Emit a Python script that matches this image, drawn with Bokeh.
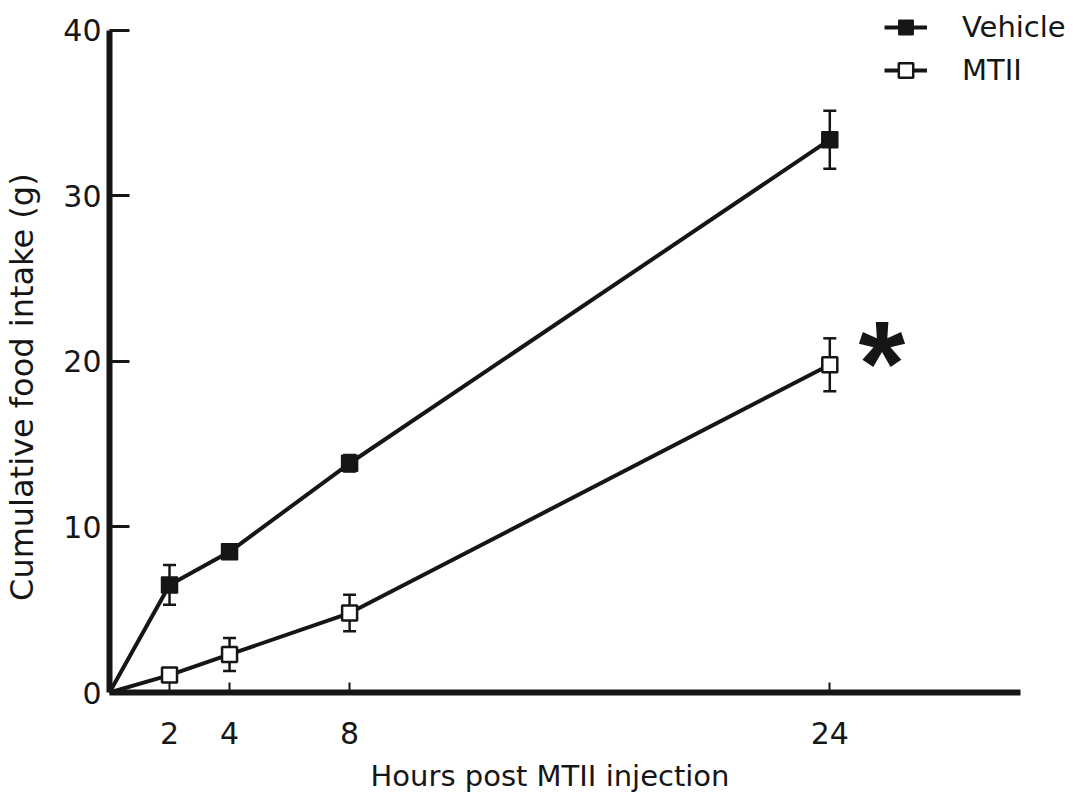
from bokeh.plotting import figure
from bokeh.models import (Range1d, FixedTicker, Whisker, TeeHead, ColumnDataSource,
                          Legend, LegendItem)
from bokeh.core.properties import value
from bokeh.embed import file_html
from bokeh.resources import INLINE

# ---- data ----
hours = [2, 4, 8, 24]
vehicle = [6.5, 8.5, 13.85, 33.4]
vehicle_err = [1.2, 0.4, 0.5, 1.75]
mtii = [1.05, 2.3, 4.8, 19.8]
mtii_err = [0.4, 1.0, 1.1, 1.6]
start_hour = [0]
start_intake = [0]
x_ticks = [2, 4, 8, 24]
y_ticks = [0, 10, 20, 30, 40]
x_axis_extent = (0, 30.36)
y_axis_extent = (0, 40)
x_title = "Hours post MTII injection"
y_title = "Cumulative food intake (g)"
series_names = ["Vehicle", "MTII"]
significance_mark = "*"

INK = "#161616"
FONT = "DejaVu Sans"
NBSP = "\u00a0"

p = figure(width=1073, height=796, output_backend="svg", toolbar_location=None,
           x_range=Range1d(0, 32.12), y_range=Range1d(0, 41.81),
           min_border_left=107, min_border_right=0, min_border_top=0, min_border_bottom=104,
           background_fill_color="white", border_fill_color="white")
p.outline_line_color = None
p.xgrid.visible = False
p.ygrid.visible = False

xa = p.xaxis[0]
xa.ticker = FixedTicker(ticks=x_ticks)
xa.bounds = x_axis_extent
xa.axis_label = x_title + NBSP * 9
ya = p.yaxis[0]
ya.ticker = FixedTicker(ticks=y_ticks)
ya.bounds = y_axis_extent
ya.axis_label = y_title + NBSP * 8
for ax in (xa, ya):
    ax.axis_line_width = 6
    ax.axis_line_color = INK
    ax.major_tick_line_color = INK
    ax.major_tick_out = 0
    ax.minor_tick_line_color = None
    ax.major_label_text_font = FONT
    ax.major_label_text_font_size = "30px"
    ax.major_label_text_color = INK
    ax.axis_label_text_font = FONT
    ax.axis_label_text_font_style = "normal"
    ax.axis_label_text_color = INK
xa.major_tick_in = 10
xa.major_tick_line_width = 2
xa.major_label_standoff = 29
xa.axis_label_standoff = 12
xa.axis_label_text_font_size = "29px"
ya.major_tick_in = 20
ya.major_tick_line_width = 3
ya.major_label_standoff = 8
ya.axis_label_standoff = 19
ya.axis_label_text_font_size = "32px"

# error bars
veh_src = ColumnDataSource(dict(x=hours, y=vehicle,
                                upper=[v + e for v, e in zip(vehicle, vehicle_err)],
                                lower=[v - e for v, e in zip(vehicle, vehicle_err)]))
mt_src = ColumnDataSource(dict(x=hours, y=mtii,
                               upper=[v + e for v, e in zip(mtii, mtii_err)],
                               lower=[v - e for v, e in zip(mtii, mtii_err)]))
for src in (veh_src, mt_src):
    w = Whisker(base="x", upper="upper", lower="lower", source=src, dimension="height",
                line_width=2.5, line_color=INK, level="underlay",
                upper_head=TeeHead(size=13, line_width=2.5, line_color=INK),
                lower_head=TeeHead(size=13, line_width=2.5, line_color=INK))
    p.add_layout(w)

# lines from the origin
veh_line = p.line(start_hour + hours, start_intake + vehicle, line_width=4, line_color=INK)
mt_line = p.line(start_hour + hours, start_intake + mtii, line_width=4, line_color=INK)

# markers
veh_pts = p.scatter("x", "y", source=veh_src, marker="square", size=16,
                    fill_color=INK, line_color=INK, line_width=1.5)
mt_pts = p.scatter("x", "y", source=mt_src, marker="square", size=15,
                   fill_color="white", line_color=INK, line_width=2.5)

# significance asterisk next to last MTII point
p.text(x=[hours[-1]], y=[mtii[-1]], text=[significance_mark], x_offset=52, y_offset=-2,
       text_align="center", text_baseline="alphabetic",
       text_font=value("Liberation Sans"), text_font_style="bold",
       text_font_size="120px", text_color=INK)

legend = Legend(items=[LegendItem(label=series_names[0], renderers=[veh_line, veh_pts]),
                       LegendItem(label=series_names[1], renderers=[mt_line, mt_pts])],
                location=(775, 604), glyph_width=43, glyph_height=36, label_standoff=35,
                spacing=7, padding=0, margin=0, border_line_alpha=0,
                background_fill_alpha=0, label_text_font=FONT,
                label_text_font_size="29px", label_text_color=INK)
p.add_layout(legend)

open("out.html", "w").write(file_html(p, INLINE))
